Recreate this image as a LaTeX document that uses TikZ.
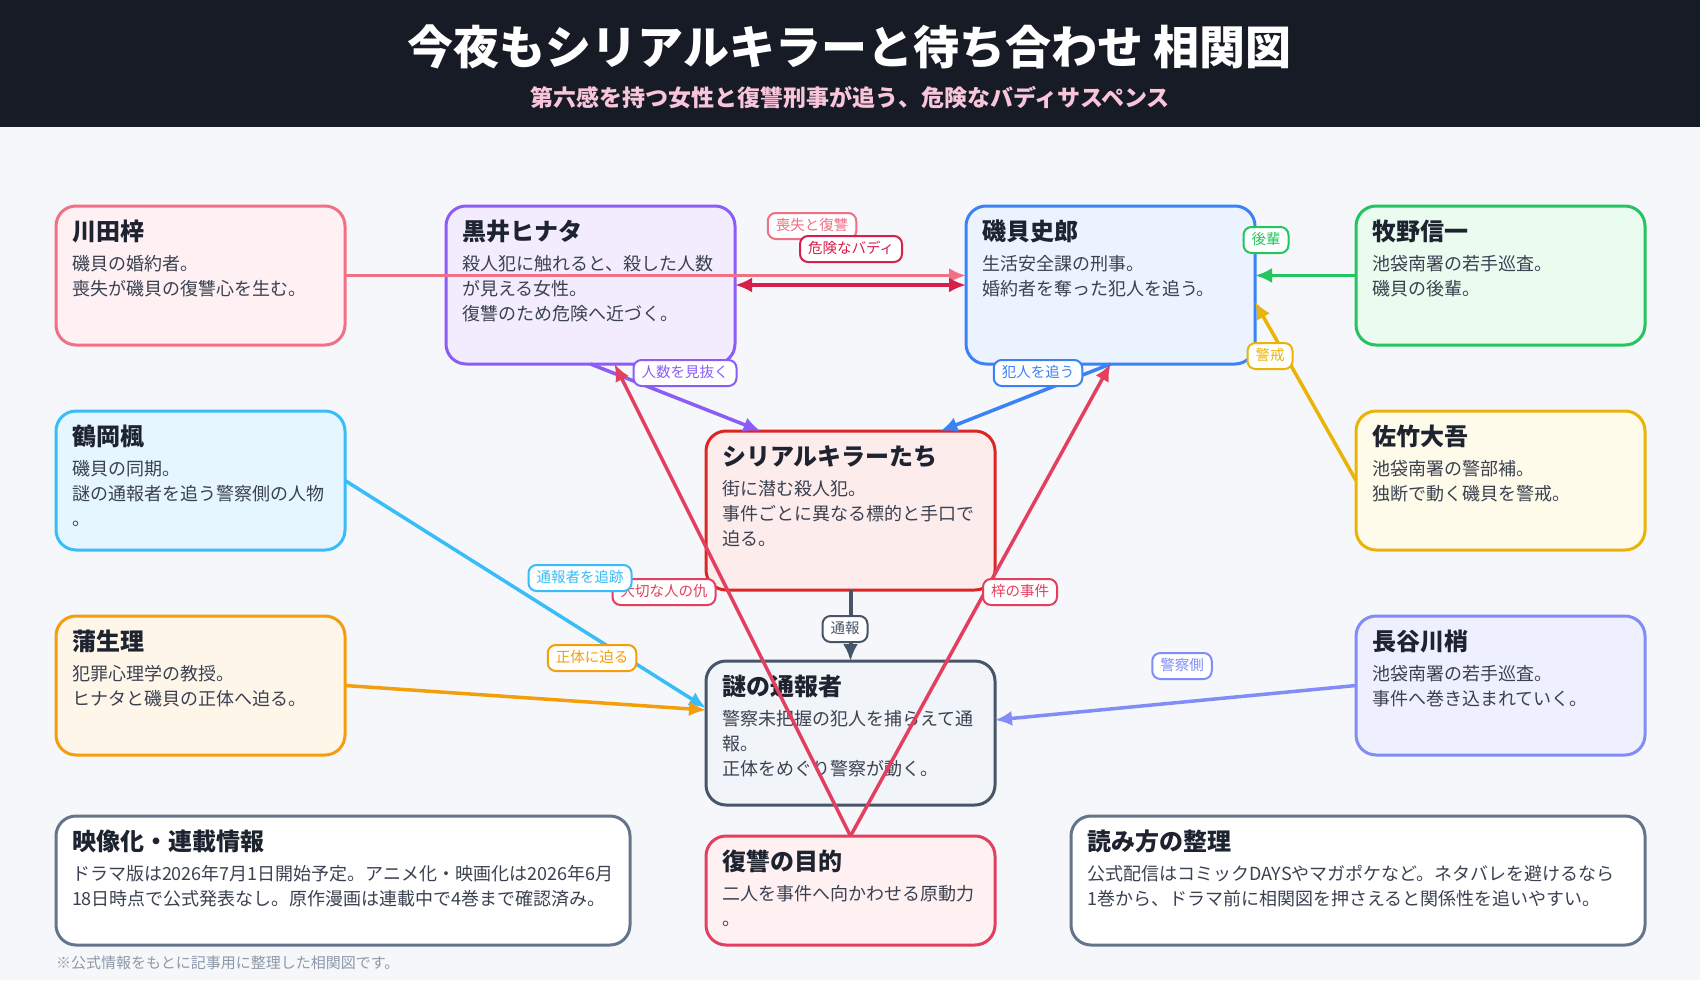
\documentclass[tikz,border=0pt]{standalone}
\usepackage{fontspec}
\setmainfont{Noto Sans CJK JP}
\usetikzlibrary{positioning,arrows.meta,calc}

\definecolor{bgC}{HTML}{F5F7FA}
\definecolor{headC}{HTML}{171B26}
\definecolor{subC}{HTML}{F9C5DA}
\definecolor{titleC}{HTML}{1E2330}
\definecolor{bodyC}{HTML}{3A4150}
\definecolor{noteC}{HTML}{8E98A8}
\definecolor{pinkC}{HTML}{F27083}
\definecolor{pinkF}{HTML}{FFF0F3}
\definecolor{purpleC}{HTML}{8B5CF6}
\definecolor{purpleF}{HTML}{F3ECFE}
\definecolor{blueC}{HTML}{3B82F6}
\definecolor{blueF}{HTML}{EBF3FE}
\definecolor{greenC}{HTML}{22C55E}
\definecolor{greenF}{HTML}{EAFBEF}
\definecolor{skyC}{HTML}{38BDF8}
\definecolor{skyF}{HTML}{E6F6FE}
\definecolor{yellowC}{HTML}{EAB308}
\definecolor{yellowF}{HTML}{FFFBEA}
\definecolor{serialC}{HTML}{DC2626}
\definecolor{serialF}{HTML}{FDECEC}
\definecolor{orangeC}{HTML}{F59E0B}
\definecolor{orangeF}{HTML}{FFF6EA}
\definecolor{periC}{HTML}{818CF8}
\definecolor{periF}{HTML}{EEF0FE}
\definecolor{slateC}{HTML}{475569}
\definecolor{slateF}{HTML}{F1F4F8}
\definecolor{redC}{HTML}{E43F5E}
\definecolor{redF}{HTML}{FFF0F2}
\definecolor{crimsonC}{HTML}{D81E4A}
\definecolor{infoC}{HTML}{64748B}

\newcommand{\boxtitle}[1]{{\fontsize{24}{28}\selectfont\bfseries\color{titleC}#1}\\[5pt]}

\begin{document}
\begin{tikzpicture}[x=1pt, y=-1pt,
  pbox/.style 2 args={draw=#1, fill=#2, line width=3pt, rounded corners=20pt,
    anchor=north west, outer sep=0pt, text width=257pt, align=left,
    inner xsep=16pt, inner ysep=14pt, text height=20pt, text=bodyC,
    font=\fontsize{18}{25}\selectfont},
  rel/.style={draw=#1, line width=3.5pt, -{Latex[length=17pt,width=15pt]}},
  rlabel/.style={draw=#1, text=#1, fill=white, line width=2pt, rounded corners=8pt,
    inner xsep=8pt, inner ysep=6pt, text height=11pt, text depth=3pt,
    font=\fontsize{14.5}{16}\selectfont}]

  % background and header
  \fill[bgC] (0,0) rectangle (1700,980);
  \fill[headC] (0,0) rectangle (1700,127);
  \node[text=white, font=\fontsize{46}{50}\selectfont\bfseries] (title) at (850,47)
    {今夜もシリアルキラーと待ち合わせ 相関図};
  \node[text=subC, font=\fontsize{23}{26}\selectfont\bfseries] (subtitle) at (850,98)
    {第六感を持つ女性と復讐刑事が追う、危険なバディサスペンス};

  % top row
  \node[pbox={pinkC}{pinkF}, text depth=91pt] (kawada) at (56,206)
    {\boxtitle{川田梓}磯貝の婚約者。\\喪失が磯貝の復讐心を生む。};
  \node[pbox={purpleC}{purpleF}, text depth=110pt] (kuroi) at (446,206)
    {\boxtitle{黒井ヒナタ}殺人犯に触れると、殺した人数\\が見える女性。\\復讐のため危険へ近づく。};
  \node[pbox={blueC}{blueF}, text depth=110pt] (isogai) at (966,206)
    {\boxtitle{磯貝史郎}生活安全課の刑事。\\婚約者を奪った犯人を追う。};
  \node[pbox={greenC}{greenF}, text depth=91pt] (makino) at (1356,206)
    {\boxtitle{牧野信一}池袋南署の若手巡査。\\磯貝の後輩。};

  % middle rows
  \node[pbox={skyC}{skyF}, text depth=91pt] (tsuruoka) at (56,411)
    {\boxtitle{鶴岡楓}磯貝の同期。\\謎の通報者を追う警察側の人物\\。};
  \node[pbox={yellowC}{yellowF}, text depth=91pt] (satake) at (1356,411)
    {\boxtitle{佐竹大吾}池袋南署の警部補。\\独断で動く磯貝を警戒。};
  \node[pbox={serialC}{serialF}, text depth=111pt] (serial) at (706,431)
    {\boxtitle{シリアルキラーたち}街に潜む殺人犯。\\事件ごとに異なる標的と手口で\\迫る。};
  \node[pbox={orangeC}{orangeF}, text depth=91pt] (gamou) at (56,616)
    {\boxtitle{蒲生理}犯罪心理学の教授。\\ヒナタと磯貝の正体へ迫る。};
  \node[pbox={periC}{periF}, text depth=91pt] (hasegawa) at (1356,616)
    {\boxtitle{長谷川梢}池袋南署の若手巡査。\\事件へ巻き込まれていく。};
  \node[pbox={slateC}{slateF}, text depth=96pt] (nazo) at (706,661)
    {\boxtitle{謎の通報者}警察未把握の犯人を捕らえて通\\報。\\正体をめぐり警察が動く。};

  % bottom row
  \node[pbox={infoC}{white}, text depth=81pt, text width=542pt] (eizou) at (56,816)
    {\boxtitle{映像化・連載情報}ドラマ版は2026年7月1日開始予定。アニメ化・映画化は2026年6月\\18日時点で公式発表なし。原作漫画は連載中で4巻まで確認済み。};
  \node[pbox={redC}{redF}, text depth=61pt] (fukushu) at (706,836)
    {\boxtitle{復讐の目的}二人を事件へ向かわせる原動力\\。};
  \node[pbox={infoC}{white}, text depth=81pt, text width=542pt] (yomikata) at (1071,816)
    {\boxtitle{読み方の整理}公式配信はコミックDAYSやマガポケなど。ネタバレを避けるなら\\1巻から、ドラマ前に相関図を押さえると関係性を追いやすい。};

  % relations
  \draw[rel=pinkC] (kawada.east) -- (kawada.east -| isogai.west);
  \draw[rel=crimsonC, {Latex[length=17pt,width=15pt]}-{Latex[length=17pt,width=15pt]}]
    (kuroi.east) -- (isogai.west);
  \draw[rel=greenC] (makino.west) -- (makino.west -| isogai.east);
  \draw[rel=yellowC] (satake.west) -- ($(isogai.south east)+(0,-62)$);
  \draw[rel=purpleC] (kuroi.south) -- ($(serial.north)+(-90,0)$);
  \draw[rel=blueC] (isogai.south) -- ($(serial.north)+(90,0)$);
  \draw[rel=slateC, line width=4pt] (serial.south) -- (nazo.north);
  \draw[rel=skyC] (tsuruoka.east) -- ($(nazo.north west)+(0,47)$);
  \draw[rel=orangeC] (gamou.east) -- ($(nazo.north west)+(0,49)$);
  \draw[rel=periC] (hasegawa.west) -- ($(nazo.north east)+(0,59)$);
  % revenge lines
  \draw[rel=redC] (fukushu.north) -- ($(kuroi.south)+(24,0)$);
  \draw[rel=redC] (fukushu.north) -- (isogai.south);

  % relation labels
  \node[rlabel=pinkC] (l-loss) at (812,226) {喪失と復讐};
  \node[rlabel=crimsonC] (l-buddy) at (851,249) {危険なバディ};
  \node[rlabel=greenC] (l-junior) at (1266,240) {後輩};
  \node[rlabel=yellowC] (l-watch) at (1270,356) {警戒};
  \node[rlabel=purpleC] (l-count) at (685,373) {人数を見抜く};
  \node[rlabel=blueC] (l-chase) at (1038,373) {犯人を追う};
  \node[rlabel=slateC] (l-report) at (845,629) {通報};
  \node[rlabel=redC] (l-enemy) at (664,592) {大切な人の仇};
  \node[rlabel=redC] (l-azusa) at (1020,592) {梓の事件};
  \node[rlabel=skyC] (l-trace) at (580,578) {通報者を追跡};
  \node[rlabel=orangeC] (l-identity) at (592,658) {正体に迫る};
  \node[rlabel=periC] (l-police) at (1182,666) {警察側};

  % note
  \node[anchor=west, inner sep=0pt, text=noteC, font=\fontsize{15}{17}\selectfont] (note)
    at (56,963) {※公式情報をもとに記事用に整理した相関図です。};
\end{tikzpicture}
\end{document}
